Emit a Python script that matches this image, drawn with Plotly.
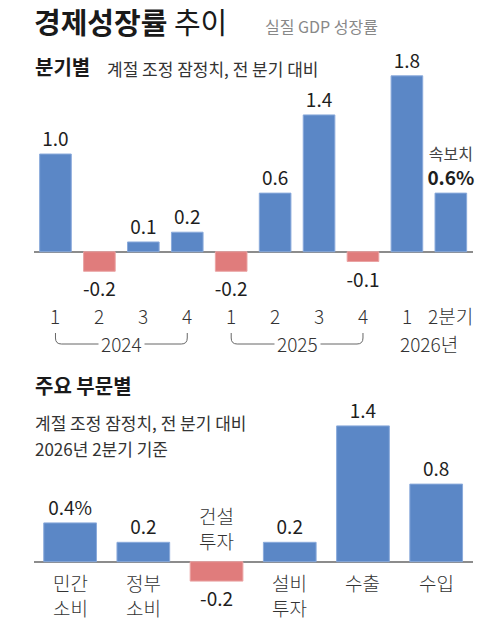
import plotly.graph_objects as go

# ---------------- data ----------------
quarters = ["1", "2", "3", "4", "1", "2", "3", "4", "1", "2분기"]
q_values = [1.0, -0.2, 0.1, 0.2, -0.2, 0.6, 1.4, -0.1, 1.8, 0.6]
q_labels = ["1.0", "-0.2", "0.1", "0.2", "-0.2", "0.6", "1.4", "-0.1", "1.8",
            "<span style='font-size:16px;color:#444'>속보치</span><br><b>0.6%</b>"]
years = ["2024", "2025", "2026년"]
year_spans = [(0, 3), (4, 7), (8, 9)]  # quarter index range per year

sectors = ["민간<br>소비", "정부<br>소비", "건설<br>투자", "설비<br>투자", "수출", "수입"]
s_values = [0.4, 0.2, -0.2, 0.2, 1.4, 0.8]
s_labels = ["0.4%", "0.2", "-0.2", "0.2", "1.4", "0.8"]

BLUE = "#5b87c6"
RED = "#e07c7c"
FONT = "Noto Sans CJK KR"
W, H = 493, 624


def py(px):
    return (H - px) / H


def px_x(px):
    return px / W


def col(v):
    return BLUE if v >= 0 else RED


def lcol(v):
    return "#8aaadb" if v >= 0 else "#eaa3a3"


fig = go.Figure()

fig.add_trace(go.Bar(
    x=list(range(len(q_values))), y=q_values, width=0.72,
    marker=dict(color=[col(v) for v in q_values],
                line=dict(color=[lcol(v) for v in q_values], width=1)),
    text=q_labels, textposition="outside", constraintext="none", cliponaxis=False,
    textfont=dict(family=FONT, size=19, color="#1e1e1e"),
    xaxis="x", yaxis="y", hoverinfo="skip",
))

fig.add_trace(go.Bar(
    x=list(range(len(s_values))), y=s_values, width=0.72,
    marker=dict(color=[col(v) for v in s_values],
                line=dict(color=[lcol(v) for v in s_values], width=1)),
    text=s_labels, textposition="outside", constraintext="none", cliponaxis=False,
    textfont=dict(family=FONT, size=19, color="#1e1e1e"),
    xaxis="x2", yaxis="y2", hoverinfo="skip",
))

xdom = [px_x(33.5), px_x(472.8)]
axis_common = dict(showgrid=False, showticklabels=False, showline=False, ticks="")

fig.update_layout(
    width=W, height=H, margin=dict(l=0, r=0, t=0, b=0),
    paper_bgcolor="white", plot_bgcolor="white", showlegend=False,
    font=dict(family=FONT, color="#222"),
    xaxis=dict(domain=xdom, range=[-0.5, 9.5], zeroline=False, fixedrange=True, **axis_common),
    yaxis=dict(domain=[py(300.6), py(56.3)], range=[-0.5, 2.0], zeroline=True,
               zerolinecolor="#8c8c8c", zerolinewidth=1.5, **axis_common),
    xaxis2=dict(domain=xdom, range=[-0.5, 5.5], zeroline=False, anchor="y2", **axis_common),
    yaxis2=dict(domain=[py(590.8), py(406.5)], range=[-0.3, 1.6], zeroline=True,
                zerolinecolor="#8c8c8c", zerolinewidth=1.5, anchor="x2", **axis_common),
)

ann = []
# headers
ann.append(dict(text="<b>경제성장률</b> 추이", x=px_x(32), y=py(21), xref="paper", yref="paper",
                xanchor="left", yanchor="middle", showarrow=False,
                font=dict(family=FONT, size=29, color="#1a1a1a")))
ann.append(dict(text="실질 GDP 성장률", x=px_x(263), y=py(26), xref="paper", yref="paper",
                xanchor="left", yanchor="middle", showarrow=False,
                font=dict(family=FONT, size=16, color="#888")))
ann.append(dict(text="<b>분기별</b>", x=px_x(33), y=py(67), xref="paper", yref="paper",
                xanchor="left", yanchor="middle", showarrow=False,
                font=dict(family=FONT, size=20, color="#1a1a1a")))
ann.append(dict(text="계절 조정 잠정치, 전 분기 대비", x=px_x(105), y=py(68.5), xref="paper", yref="paper",
                xanchor="left", yanchor="middle", showarrow=False,
                font=dict(family=FONT, size=17, color="#333")))
ann.append(dict(text="<b>주요 부문별</b>", x=px_x(33), y=py(385), xref="paper", yref="paper",
                xanchor="left", yanchor="middle", showarrow=False,
                font=dict(family=FONT, size=20, color="#1a1a1a")))
ann.append(dict(text="계절 조정 잠정치, 전 분기 대비", x=px_x(33), y=py(422), xref="paper", yref="paper",
                xanchor="left", yanchor="middle", showarrow=False,
                font=dict(family=FONT, size=17, color="#333")))
ann.append(dict(text="2026년 2분기 기준", x=px_x(33), y=py(448), xref="paper", yref="paper",
                xanchor="left", yanchor="middle", showarrow=False,
                font=dict(family=FONT, size=17, color="#333")))

# quarter tick labels
for i, q in enumerate(quarters):
    ann.append(dict(text=q, x=i, y=py(315), xref="x", yref="paper",
                    xanchor="center", yanchor="middle", showarrow=False,
                    font=dict(family=FONT, size=19, color="#333", weight=300)))

shapes = []
y_hook = py(333)
y_line = py(344)
r_y = 6 / H
r_x = 6 / 43.9
for (a, b), yr in zip(year_spans, years):
    cx = (a + b) / 2
    if b - a >= 2:
        path = (f"M {a},{y_hook} L {a},{y_line + r_y} Q {a},{y_line} {a + r_x},{y_line} "
                f"L {b - r_x},{y_line} Q {b},{y_line} {b},{y_line + r_y} L {b},{y_hook}")
        shapes.append(dict(type="path", path=path, xref="x", yref="paper",
                           line=dict(color="#666", width=1)))
        ann.append(dict(text=yr, x=cx, y=py(343), xref="x", yref="paper",
                        xanchor="center", yanchor="middle", showarrow=False, bgcolor="white",
                        borderpad=2, font=dict(family=FONT, size=19, color="#333", weight=300)))
    else:
        ann.append(dict(text=yr, x=cx, y=py(343), xref="x", yref="paper",
                        xanchor="center", yanchor="middle", showarrow=False,
                        font=dict(family=FONT, size=19, color="#333", weight=300)))

# sector labels
for i, (s, v) in enumerate(zip(sectors, s_values)):
    if v >= 0:
        ann.append(dict(text=s, x=i, y=0, xref="x2", yref="y2", xanchor="center", yanchor="top",
                        yshift=-5, showarrow=False,
                        font=dict(family=FONT, size=19, color="#333", weight=300)))
    else:
        ann.append(dict(text=s, x=i, y=0, xref="x2", yref="y2", xanchor="center", yanchor="bottom",
                        yshift=6, showarrow=False,
                        font=dict(family=FONT, size=19, color="#333", weight=300)))

fig.update_layout(annotations=ann, shapes=shapes)
fig.write_html("out.html")
